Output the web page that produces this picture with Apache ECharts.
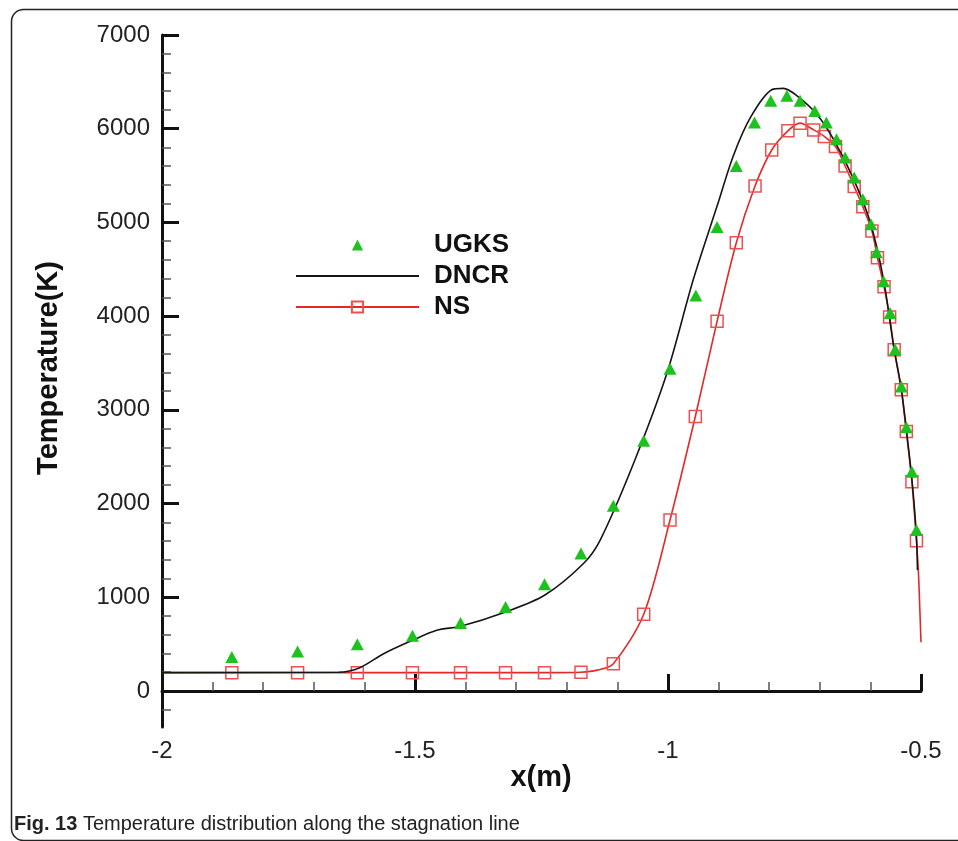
<!DOCTYPE html>
<html>
<head>
<meta charset="utf-8">
<script src="https://cdn.jsdelivr.net/npm/echarts@6/dist/echarts.min.js"></script>
<style>
html,body{margin:0;padding:0;background:#fff;}
#chart{width:958px;height:841px;}
</style>
</head>
<body>
<div id="chart"></div>
<script>
// ---- data ----
const ugksX = [-1.862,-1.732,-1.614,-1.505,-1.410,-1.321,-1.244,-1.172,-1.108,-1.048,-0.996,-0.945,-0.903,-0.865,-0.829,-0.797,-0.765,-0.739,-0.710,-0.687,-0.667,-0.650,-0.632,-0.615,-0.599,-0.588,-0.574,-0.561,-0.551,-0.539,-0.529,-0.518,-0.509];
const ugksY = [361,422,497,590,725,896,1139,1467,1975,2670,3438,4219,4950,5602,6066,6298,6351,6298,6190,6066,5888,5692,5478,5246,4979,4682,4372,4034,3645,3249,2815,2340,1717];

const dncrX = [-2.0,-1.651,-1.609,-1.562,-1.505,-1.457,-1.410,-1.321,-1.244,-1.167,-1.134,-1.068,-1.002,-0.950,-0.903,-0.871,-0.837,-0.795,-0.772,-0.745,-0.706,-0.673,-0.633,-0.600,-0.574,-0.554,-0.539,-0.529,-0.518,-0.509,-0.507];
const dncrY = [195,200,248,397,540,647,690,843,1021,1360,1610,2430,3393,4390,5174,5709,6120,6415,6430,6351,6155,5888,5460,4997,4390,3677,3230,2790,2260,1650,1290];

// NS: marker points
const nsMarkX = [-1.862,-1.732,-1.614,-1.505,-1.410,-1.321,-1.244,-1.172,-1.108,-1.048,-0.996,-0.946,-0.903,-0.865,-0.828,-0.795,-0.763,-0.739,-0.712,-0.691,-0.669,-0.650,-0.632,-0.615,-0.597,-0.586,-0.573,-0.562,-0.553,-0.539,-0.529,-0.518,-0.509];
const nsMarkY = [195,195,195,195,195,195,195,200,291,818,1824,2929,3945,4783,5388,5773,5977,6059,5987,5917,5810,5602,5382,5168,4907,4622,4312,3991,3642,3214,2768,2233,1602];
// NS: extra curve points without markers
const nsLineX = [-2.0,-1.14,-0.505,-0.502,-0.500];
const nsLineY = [195,222,1253,826,520];

const xMajorTicks = [-2,-1.5,-1,-0.5];
const xMinorTicks = [-1.9,-1.8,-1.7,-1.6,-1.4,-1.3,-1.2,-1.1,-0.9,-0.8,-0.7,-0.6];
const yMajorTicks = [0,1000,2000,3000,4000,5000,6000,7000];
const yMinorTicks = [-200,200,400,600,800,1200,1400,1600,1800,2200,2400,2600,2800,3200,3400,3600,3800,4200,4400,4600,4800,5200,5400,5600,5800,6200,6400,6600,6800];

// ---- build series data ----
const ugksData = ugksX.map((x,i)=>[x,ugksY[i]]);
const dncrData = dncrX.map((x,i)=>[x,dncrY[i]]);
const nsData = nsMarkX.map((x,i)=>({value:[x,nsMarkY[i]]}))
  .concat(nsLineX.map((x,i)=>({value:[x,nsLineY[i]], symbol:'none'})))
  .sort((a,b)=>a.value[0]-b.value[0]);

const chart = echarts.init(document.getElementById('chart'), null, {renderer:'canvas'});
const tickFont = {fontFamily:'Liberation Sans, Arial, sans-serif', fontSize:24, color:'#222'};

chart.setOption({
  animation:false,
  backgroundColor:'#fff',
  grid:{left:162, right:37, top:35, bottom:114},
  legend:{
    orient:'vertical', left:290, top:227,
    itemWidth:123, itemHeight:14, itemGap:5,
    data:['UGKS',{name:'DNCR', itemStyle:{color:'rgba(0,0,0,0)', borderWidth:0, opacity:0}},'NS'],
    textStyle:{fontFamily:'Liberation Sans, Arial, sans-serif', fontSize:26, fontWeight:'bold', color:'#111', padding:[0,0,0,10]},
    selectedMode:false
  },
  xAxis:[{
    type:'value', min:-2, max:-0.5, position:'bottom',
    axisLine:{show:true, lineStyle:{color:'#111', width:3}},
    axisTick:{show:true, inside:true, length:17, customValues:xMajorTicks, lineStyle:{color:'#111', width:3}},
    axisLabel:{show:true, customValues:xMajorTicks, margin:12, formatter:v=>String(v), ...tickFont},
    splitLine:{show:false}
  },{
    type:'value', min:-2, max:-0.5, position:'bottom',
    axisLine:{show:false},
    axisTick:{show:true, inside:true, length:9, customValues:xMinorTicks, lineStyle:{color:'#555', width:1.5}},
    axisLabel:{show:false},
    splitLine:{show:false}
  }],
  yAxis:[{
    type:'value', min:-385, max:7000, position:'left',
    axisLine:{show:true, lineStyle:{color:'#111', width:3}},
    axisTick:{show:true, inside:true, length:17, customValues:yMajorTicks, lineStyle:{color:'#111', width:3}},
    axisLabel:{show:true, customValues:yMajorTicks, margin:12, formatter:v=>String(v), ...tickFont},
    splitLine:{show:false}
  },{
    type:'value', min:-385, max:7000, position:'left',
    axisLine:{show:false},
    axisTick:{show:true, inside:true, length:9, customValues:yMinorTicks, lineStyle:{color:'#555', width:1.5}},
    axisLabel:{show:false},
    splitLine:{show:false}
  }],
  series:[{
    name:'NS', type:'line', data:nsData, smooth:0.3,
    symbol:'rect', symbolSize:12, showSymbol:true, silent:true,
    lineStyle:{color:'#e42828', width:1.6},
    itemStyle:{color:'rgba(255,255,255,0)', borderColor:'#ee5050', borderWidth:1.5},
    z:2
  },{
    name:'DNCR', type:'line', data:dncrData, smooth:0.3,
    symbol:'none', silent:true,
    lineStyle:{color:'#151515', width:1.6},
    itemStyle:{color:'#151515'},
    z:3
  },{
    name:'UGKS', type:'line', data:ugksData,
    symbol:'triangle', symbolSize:[13,12], showSymbol:true, silent:true,
    lineStyle:{opacity:0, width:0},
    itemStyle:{color:'#1ec21e'},
    z:4
  }],
  graphic:[{
    type:'rect', left:9, top:7, shape:{x:0,y:0,width:1000,height:831,r:12},
    style:{fill:'none', stroke:'#222', lineWidth:1.5}, silent:true, z:-1
  },{
    type:'text', x:49, y:368, rotation:Math.PI/2,
    style:{text:'Temperature(K)', fontFamily:'Liberation Sans, Arial, sans-serif', fontSize:29, fontWeight:'bold', fill:'#111', align:'center', verticalAlign:'middle'}
  },{
    type:'text', x:541, y:778,
    style:{text:'x(m)', fontFamily:'Liberation Sans, Arial, sans-serif', fontSize:29, fontWeight:'bold', fill:'#111', align:'center', verticalAlign:'middle'}
  },{
    type:'text', x:14, y:824,
    style:{
      text:'{b|Fig. 13} Temperature distribution along the stagnation line',
      fontFamily:'Liberation Sans, Arial, sans-serif', fontSize:20, fill:'#222', verticalAlign:'middle',
      rich:{b:{fontWeight:'bold', fontSize:20, fontFamily:'Liberation Sans, Arial, sans-serif', fill:'#222'}}
    }
  }]
});
</script>
</body>
</html>
